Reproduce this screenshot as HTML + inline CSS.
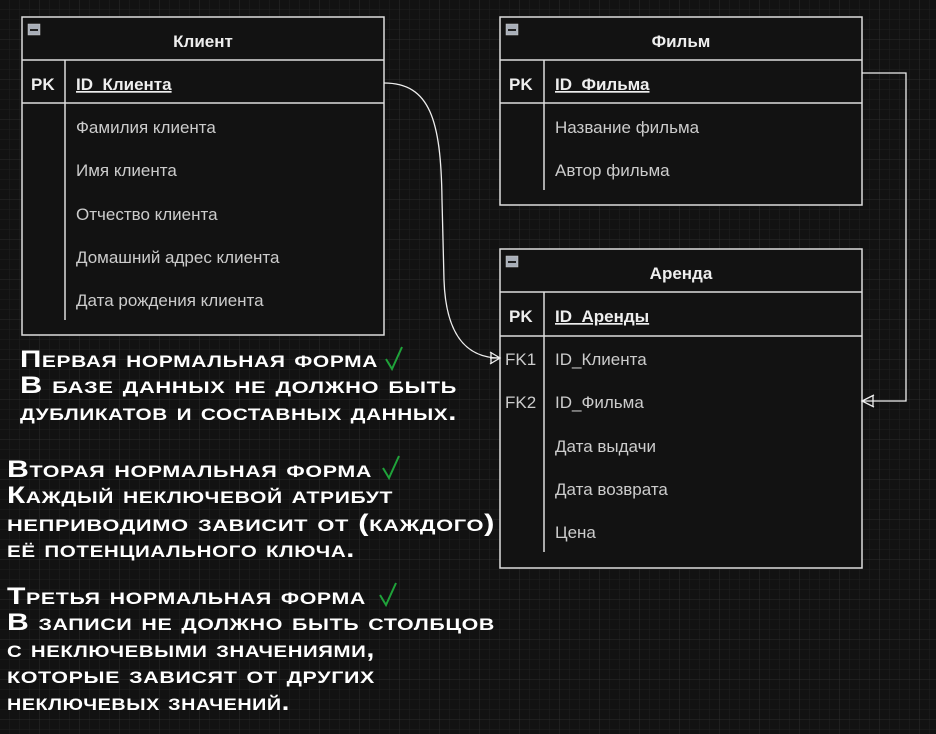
<!DOCTYPE html>
<html><head><meta charset="utf-8"><style>
html,body{margin:0;padding:0;background:#121212;}
svg{display:block}
.t{font-family:"Liberation Sans",sans-serif;}
.hw{font-family:"Liberation Sans",sans-serif;font-variant:small-caps;font-size:24px;fill:#fff;font-weight:bold;letter-spacing:0.5px}
</style></head><body>
<svg width="936" height="734" viewBox="0 0 936 734" xmlns="http://www.w3.org/2000/svg">
<defs>
<pattern id="g1" width="10" height="10" patternUnits="userSpaceOnUse"><path d="M10 0V10H0" fill="none" stroke="#202020" stroke-width="1"/></pattern>
<pattern id="g2" width="40" height="40" patternUnits="userSpaceOnUse"><path d="M40 0V40H0" fill="none" stroke="#2c2c2c" stroke-width="1"/></pattern>
</defs>
<rect width="936" height="734" fill="#121212"/>
<rect width="936" height="734" fill="url(#g1)"/>
<rect width="936" height="734" fill="url(#g2)"/>

<g fill="#121212" stroke="#ddd" stroke-width="1.5">
<rect x="22" y="17" width="362" height="318"/>
<line x1="22" y1="60" x2="384" y2="60"/>
<line x1="22" y1="103" x2="384" y2="103"/>
<line x1="65" y1="60" x2="65" y2="320"/>
<rect x="500" y="17" width="362" height="188"/>
<line x1="500" y1="60" x2="862" y2="60"/>
<line x1="500" y1="103" x2="862" y2="103"/>
<line x1="544" y1="60" x2="544" y2="190"/>
<rect x="500" y="249" width="362" height="319"/>
<line x1="500" y1="292" x2="862" y2="292"/>
<line x1="500" y1="336" x2="862" y2="336"/>
<line x1="544" y1="292" x2="544" y2="552"/>
</g>
<g fill="#a8aeb8" stroke="#ccc" stroke-width="0.5">
<rect x="28" y="24" width="12" height="11"/><rect x="506" y="24" width="12" height="11"/><rect x="506" y="256" width="12" height="11"/>
</g>
<g fill="#222"><rect x="30" y="29" width="8" height="2"/><rect x="508" y="29" width="8" height="2"/><rect x="508" y="261" width="8" height="2"/></g>

<g class="t" fill="#eee" font-size="17" font-weight="bold">
<text x="203" y="47" text-anchor="middle">Клиент</text>
<text x="681" y="47" text-anchor="middle">Фильм</text>
<text x="681" y="279" text-anchor="middle">Аренда</text>
<text x="31" y="90">PK</text><text x="76" y="90" text-decoration="underline">ID_Клиента</text>
<text x="509" y="90">PK</text><text x="555" y="90" text-decoration="underline">ID_Фильма</text>
<text x="509" y="322">PK</text><text x="555" y="322" text-decoration="underline">ID_Аренды</text>
</g>
<g class="t" fill="#ccc" font-size="17">
<text x="76" y="133">Фамилия клиента</text>
<text x="76" y="176">Имя клиента</text>
<text x="76" y="220">Отчество клиента</text>
<text x="76" y="263">Домашний адрес клиента</text>
<text x="76" y="306">Дата рождения клиента</text>
<text x="555" y="133">Название фильма</text>
<text x="555" y="176">Автор фильма</text>
<text x="505" y="365">FK1</text><text x="555" y="365">ID_Клиента</text>
<text x="505" y="408">FK2</text><text x="555" y="408">ID_Фильма</text>
<text x="555" y="452">Дата выдачи</text>
<text x="555" y="495">Дата возврата</text>
<text x="555" y="538">Цена</text>
</g>

<g fill="none" stroke="#eee" stroke-width="1.3">
<path d="M384 83 C 430 83, 441 120, 442 200 L 444 280 C 446 340, 470 358, 500 358"/>
<path d="M490 352 L500 358 L490 364 M490 358 H500 M491 352 V364"/>
<path d="M862 73 H906 V401 H862"/>
<path d="M874 395 L862 401 L874 407 M873 395 V407"/>
</g>

<g class="hw">
<text x="20" y="367" textLength="358" lengthAdjust="spacingAndGlyphs">Первая нормальная форма</text>
<text x="20" y="393" textLength="437" lengthAdjust="spacingAndGlyphs">В базе данных не должно быть</text>
<text x="20" y="420" textLength="437" lengthAdjust="spacingAndGlyphs">дубликатов и составных данных.</text>
<text x="7" y="477" textLength="365" lengthAdjust="spacingAndGlyphs">Вторая нормальная форма</text>
<text x="7" y="503" textLength="386" lengthAdjust="spacingAndGlyphs">Каждый неключевой атрибут</text>
<text x="7" y="531" textLength="488" lengthAdjust="spacingAndGlyphs">неприводимо зависит от (каждого)</text>
<text x="7" y="557" textLength="348" lengthAdjust="spacingAndGlyphs">её потенциального ключа.</text>
<text x="7" y="604" textLength="359" lengthAdjust="spacingAndGlyphs">Третья нормальная форма</text>
<text x="7" y="630" textLength="488" lengthAdjust="spacingAndGlyphs">В записи не должно быть столбцов</text>
<text x="7" y="657" textLength="368" lengthAdjust="spacingAndGlyphs">с неключевыми значениями,</text>
<text x="7" y="683" textLength="368" lengthAdjust="spacingAndGlyphs">которые зависят от других</text>
<text x="7" y="710" textLength="283" lengthAdjust="spacingAndGlyphs">неключевых значений.</text>
</g>
<g fill="none" stroke="#1fa33a" stroke-width="2">
<path d="M386 359 L392 369 L402 347"/>
<path d="M383 468 L389 478 L399 456"/>
<path d="M380 595 L386 605 L396 583"/>
</g>
</svg>
</body></html>
